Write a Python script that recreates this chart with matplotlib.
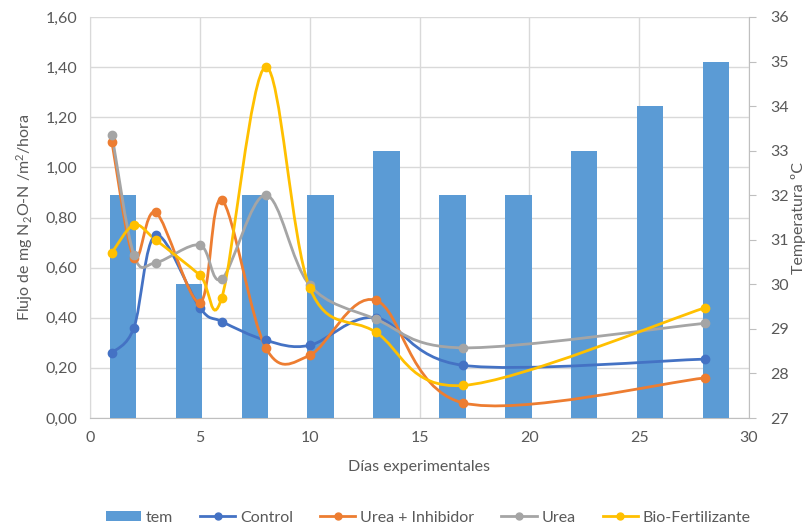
import matplotlib
matplotlib.use('Agg')
import matplotlib.pyplot as plt
import numpy as np
from matplotlib.path import Path
from matplotlib.patches import PathPatch, Patch
from matplotlib.lines import Line2D

# Data
days = [1, 2, 3, 5, 6, 8, 10, 13, 17, 28]
control = [0.26, 0.36, 0.73, 0.44, 0.385, 0.31, 0.29, 0.40, 0.21, 0.235]
urea_inhibidor = [1.10, 0.64, 0.82, 0.46, 0.87, 0.28, 0.25, 0.47, 0.06, 0.16]
urea = [1.13, 0.65, 0.62, 0.69, 0.555, 0.89, 0.53, 0.395, 0.28, 0.378]
bio_fertilizante = [0.66, 0.77, 0.71, 0.57, 0.48, 1.40, 0.52, 0.343, 0.13, 0.44]

temp = [32, 30, 32, 32, 33, 32, 32, 33, 34, 35]

flux_ticks = [0.0, 0.2, 0.4, 0.6, 0.8, 1.0, 1.2, 1.4, 1.6]
flux_labels = ['0,00', '0,20', '0,40', '0,60', '0,80', '1,00', '1,20', '1,40', '1,60']
temp_ticks = [27, 28, 29, 30, 31, 32, 33, 34, 35, 36]
day_ticks = [0, 5, 10, 15, 20, 25, 30]

series = [
    ('Control', control, '#4472c4'),
    ('Urea + Inhibidor', urea_inhibidor, '#ed7d31'),
    ('Urea', urea, '#a5a5a5'),
    ('Bio-Fertilizante', bio_fertilizante, '#ffc000'),
]

plt.rcParams['font.family'] = ['Lato', 'DejaVu Sans']
plt.rcParams['mathtext.fontset'] = 'custom'
plt.rcParams['mathtext.rm'] = 'Lato'
plt.rcParams['mathtext.it'] = 'Lato:italic'
text_color = '#595959'
grid_color = '#d9d9d9'
fs = 11.5


def smooth_path(x, y):
    # Catmull-Rom style bezier, like Excel's smoothed lines
    p = np.column_stack([x, y]).astype(float)
    ext = np.vstack([p[0], p, p[-1]])
    verts = [p[0]]
    codes = [Path.MOVETO]
    for i in range(len(p) - 1):
        c1 = ext[i + 1] + (ext[i + 2] - ext[i]) / 6
        c2 = ext[i + 2] - (ext[i + 3] - ext[i + 1]) / 6
        verts += [c1, c2, ext[i + 2]]
        codes += [Path.CURVE4] * 3
    return Path(verts, codes)


fig = plt.figure(figsize=(8.08, 5.27), dpi=100)
rect = [90 / 808, 1 - 418 / 527, (749 - 90) / 808, (418 - 17) / 527]

# Base axes: grid, left and bottom axis
ax = fig.add_axes(rect)
ax.set_xlim(0, 30)
ax.set_ylim(0, 1.6)
ax.set_xticks(day_ticks)
ax.set_yticks(flux_ticks)
ax.set_yticklabels(flux_labels)
ax.grid(True, color=grid_color, lw=1)
ax.set_axisbelow(True)
ax.tick_params(length=0, labelsize=fs, colors=text_color)
ax.tick_params(axis='y', pad=9)
ax.tick_params(axis='x', pad=9)
for s in ['top', 'right']:
    ax.spines[s].set_visible(False)
ax.spines['left'].set_color(grid_color)
ax.spines['bottom'].set_color('#bfbfbf')
ax.set_xlabel('Días experimentales', fontsize=fs, color=text_color, labelpad=11)
ax.set_ylabel('Flujo de mg N$_2$O-N /m$^2$/hora', fontsize=fs, color=text_color, labelpad=8)

# Bars on secondary (category) axis
axb = fig.add_axes(rect)
axb.patch.set_visible(False)
axb.bar(np.arange(len(temp)), [t - 27 for t in temp], bottom=27, width=0.4,
        color='#5b9bd5', zorder=2)
axb.set_xlim(-0.5, len(temp) - 0.5)
axb.set_ylim(27, 36)
axb.set_yticks(temp_ticks)
axb.xaxis.set_visible(False)
axb.yaxis.tick_right()
axb.yaxis.set_label_position('right')
axb.tick_params(axis='y', length=5, color='#bfbfbf', labelsize=fs,
                labelcolor=text_color, pad=10)
for s in ['top', 'left', 'bottom']:
    axb.spines[s].set_visible(False)
axb.spines['right'].set_color('#bfbfbf')
axb.set_ylabel('Temperatura ºC', fontsize=fs, color=text_color, labelpad=2)

# Lines on top
axl = fig.add_axes(rect)
axl.patch.set_visible(False)
axl.set_xlim(0, 30)
axl.set_ylim(0, 1.6)
axl.axis('off')
for name, vals, color in series:
    axl.add_patch(PathPatch(smooth_path(days, vals), fill=False,
                            edgecolor=color, lw=2, clip_on=False))
    axl.plot(days, vals, 'o', color=color, ms=6, clip_on=False)

handles = [Patch(facecolor='#5b9bd5', label='tem')]
for name, vals, color in series:
    handles.append(Line2D([], [], color=color, lw=2, marker='o', ms=5, label=name))
fig.legend(handles=handles, loc='center', bbox_to_anchor=(0.53, 0.018), ncol=5,
           frameon=False, fontsize=fs, labelcolor=text_color, handlelength=2.2,
           handletextpad=0.3, columnspacing=1.7, handleheight=0.6)

fig.savefig('out.png', dpi=100)
